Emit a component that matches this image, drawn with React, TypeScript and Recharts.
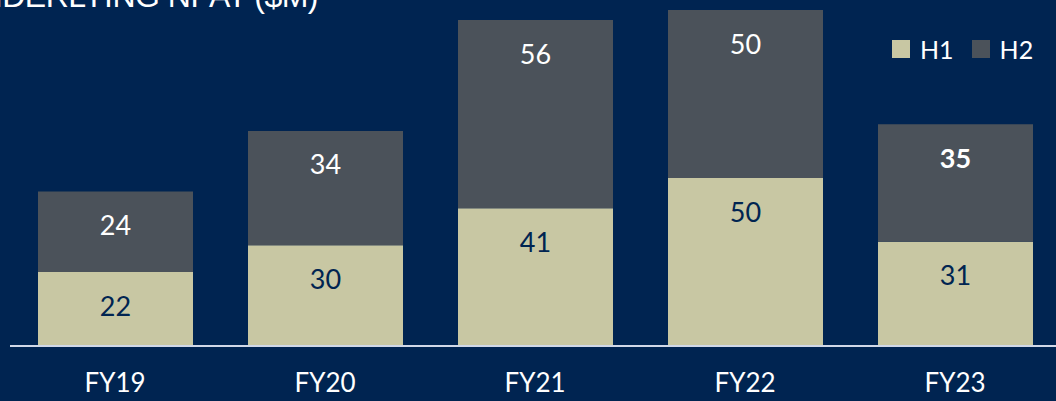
import React from 'react';
import { BarChart, Bar, XAxis, YAxis, LabelList } from 'recharts';

const years = ['FY19', 'FY20', 'FY21', 'FY22', 'FY23'];
const h1 = [22, 30, 41, 50, 31];
const h2 = [24, 34, 56, 50, 35];

const BG = '#002451';
const H1_COLOR = '#C8C7A3';
const H2_COLOR = '#4B525A';
const FONT = 'Lato, "Open Sans", sans-serif';

const data = years.map((year, i) => ({ year, H1: h1[i], H2: h2[i] }));

const makeLabel = (fill: string, boldLast: boolean) => (props: any) => {
  const { x, y, width, value, index } = props;
  return (
    <text
      x={x + width / 2}
      y={y + 33}
      textAnchor="middle"
      dominantBaseline="central"
      fill={fill}
      fontSize={27}
      fontFamily={FONT}
      fontWeight={boldLast && index === years.length - 1 ? 700 : 400}
    >
      {value}
    </text>
  );
};

const renderTick = (props: any) => {
  const { x, y, payload } = props;
  return (
    <text x={x} y={y + 28} textAnchor="middle" dominantBaseline="central" fill="#FFFFFF" fontSize={26} fontFamily={FONT}>
      {payload.value}
    </text>
  );
};

function App() {
  return (
    <div style={{ position: 'absolute', left: 0, top: 0, width: 1056, height: 401, overflow: 'hidden', background: BG }}>
      <div
        style={{
          position: 'absolute',
          right: 738,
          top: -20,
          color: '#FFFFFF',
          fontFamily: '"Liberation Sans", sans-serif',
          fontSize: 32,
          lineHeight: 1,
          whiteSpace: 'nowrap',
          letterSpacing: -0.5,
        }}
      >
        UNDERLYING NPAT ($M)
      </div>
      <div
        style={{
          position: 'absolute',
          left: 892,
          top: 34,
          display: 'flex',
          alignItems: 'center',
          fontFamily: FONT,
          fontSize: 25,
          color: '#FFFFFF',
          zIndex: 1,
        }}
      >
        <span style={{ width: 18, height: 18, background: H1_COLOR, display: 'inline-block', marginRight: 10 }} />
        <span style={{ marginRight: 18 }}>H1</span>
        <span style={{ width: 18, height: 18, background: H2_COLOR, display: 'inline-block', marginRight: 10 }} />
        <span>H2</span>
      </div>
      <BarChart width={1060} height={401} data={data} margin={{ top: 10, right: 0, bottom: 0, left: 10 }}>
        <XAxis
          dataKey="year"
          axisLine={{ stroke: '#D0D8E8', strokeWidth: 2 }}
          tickLine={false}
          tick={renderTick}
          height={55}
          interval={0}
        />
        <YAxis hide domain={[0, 100]} />
        <Bar dataKey="H1" stackId="a" fill={H1_COLOR} barSize={155} isAnimationActive={false}>
          <LabelList dataKey="H1" content={makeLabel(BG, false)} />
        </Bar>
        <Bar dataKey="H2" stackId="a" fill={H2_COLOR} barSize={155} isAnimationActive={false}>
          <LabelList dataKey="H2" content={makeLabel('#FFFFFF', true)} />
        </Bar>
      </BarChart>
    </div>
  );
}

export default App;
